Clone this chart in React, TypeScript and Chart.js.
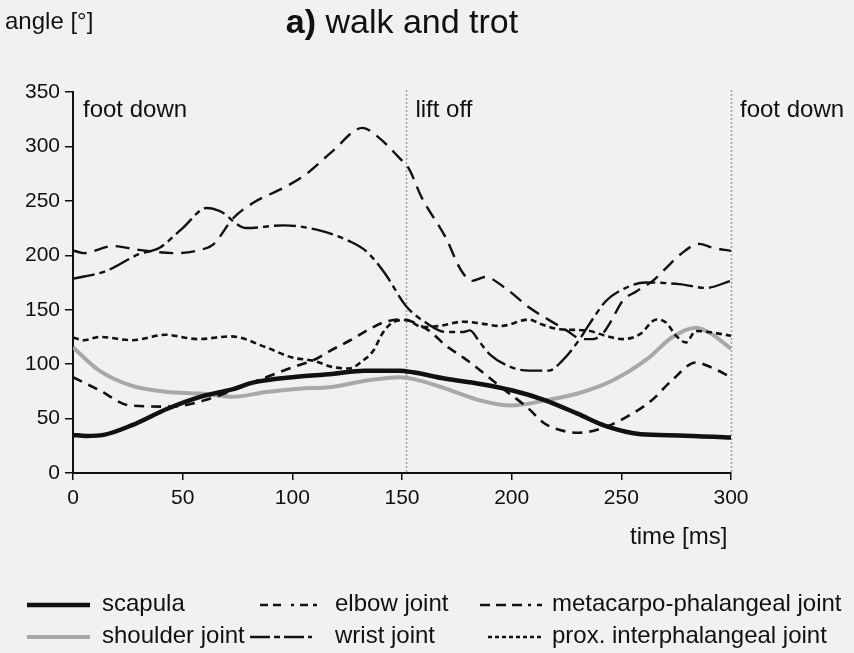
import React, { useEffect, useRef } from "react";
import { Chart, registerables } from "chart.js";

Chart.register(...registerables);

// ---------- data ----------
const xTickValues = [0, 50, 100, 150, 200, 250, 300];
const yTickValues = [0, 50, 100, 150, 200, 250, 300, 350];

const eventTimes = [0, 152, 300];
const eventLabels = ["foot down", "lift off", "foot down"];

const scapulaT = [0, 6, 14, 27, 43, 58, 73, 82, 100, 118, 133, 149, 155, 170, 185, 200, 215, 230, 243, 259, 276, 300];
const scapulaV = [35, 34, 35, 44, 59, 70, 77, 83, 88, 91, 94, 94, 92.5, 86.5, 82, 76, 67, 54.5, 43, 35.5, 34.5, 32.5];

const shoulderT = [0, 12, 27, 43, 58, 73, 88, 103, 118, 134, 149, 155, 170, 185, 200, 215, 230, 246, 262, 273, 284, 291, 300];
const shoulderV = [115.5, 94, 80, 74.5, 73, 70, 74.5, 77.5, 79, 85, 88, 86.5, 77.5, 67, 62, 66.5, 73, 85, 105, 124.5, 133.5, 128, 114];

const elbowT = [0, 12, 26, 45, 62, 73, 88, 100, 110, 117, 126, 135, 141, 149, 153, 162.5, 170, 178, 184, 195, 207, 215, 225, 231, 243, 255, 264, 273, 284, 291, 300];
const elbowV = [88, 76, 62, 61, 68, 76, 88, 97, 104, 112, 121.5, 132, 138, 141, 140, 130.5, 117, 106, 97, 79, 60.5, 45.5, 38, 37, 42.5, 54.5, 67, 85, 101.5, 97, 88];

const metaT = [0, 5, 18, 30, 47, 58, 64, 73, 82, 96, 106, 118, 132, 138, 149, 153, 159, 170, 177, 182, 188, 197, 208, 217.5, 225, 232, 237, 241.5, 245.5, 250.5, 257, 264, 270.5, 277, 285.5, 291.5, 300];
const metaV = [204.5, 202, 208.5, 205, 202, 205, 210, 234, 248, 262, 274, 295, 317, 310.5, 289, 280, 253, 216, 186, 176.5, 180, 170, 152, 140, 131, 123, 123, 128, 140, 158, 167, 176, 188.5, 201, 210.5, 207, 204];

const wristT = [0, 15, 30, 39.5, 50, 61, 67, 79, 96, 111, 126, 133.5, 142, 152, 161, 170, 178, 181, 185, 190, 200, 208, 217, 223, 230.5, 235.5, 243, 252, 261, 276.5, 288.5, 300];
const wristV = [178.5, 185.5, 201, 207, 225, 243.5, 240.5, 225, 227.5, 223.5, 213, 204, 184, 153, 138, 129.5, 129.5, 131, 121.5, 109, 97, 94, 94, 103, 121.5, 137, 158, 170, 175, 173.5, 170, 176.5];

const proxT = [0, 5, 12, 27, 42, 57, 72, 88, 100, 110, 118, 126, 132, 137, 141, 145.5, 151.7, 159.5, 167, 178, 187, 195, 208, 213, 222, 234, 243, 250.5, 258.5, 266, 270.5, 275, 279.5, 284, 291.5, 300];
const proxV = [124.5, 122, 125, 122, 127, 123, 125.5, 115.5, 106, 103, 97.5, 96, 103, 112.5, 128, 138, 140.5, 134, 135, 139, 137, 135, 141, 137, 132, 131, 126, 123, 127.5, 141, 138, 126, 120, 130.5, 129, 126];

const seriesNames = [
  "scapula",
  "shoulder joint",
  "elbow joint",
  "wrist joint",
  "metacarpo-phalangeal joint",
  "prox. interphalangeal joint",
];

const FONT = '"Liberation Sans", Arial, Helvetica, sans-serif';
const INK = "#111111";

function pts(t: number[], v: number[]) {
  return t.map((x, i) => ({ x, y: v[i] }));
}

export default function App() {
  const ref = useRef<HTMLCanvasElement>(null);

  useEffect(() => {
    const canvas = ref.current;
    if (!canvas) return;

    const datasets: any[] = [
      { label: seriesNames[0], data: pts(scapulaT, scapulaV), borderColor: INK, borderWidth: 4.5, borderDash: [], order: 0 },
      { label: seriesNames[1], data: pts(shoulderT, shoulderV), borderColor: "#a8a8a8", borderWidth: 4, borderDash: [], order: 5 },
      { label: seriesNames[2], data: pts(elbowT, elbowV), borderColor: INK, borderWidth: 2.6, borderDash: [10, 7], order: 2 },
      { label: seriesNames[3], data: pts(wristT, wristV), borderColor: INK, borderWidth: 2.4, borderDash: [22, 5, 6, 5], order: 3 },
      { label: seriesNames[4], data: pts(metaT, metaV), borderColor: INK, borderWidth: 2.4, borderDash: [14, 8], order: 4 },
      { label: seriesNames[5], data: pts(proxT, proxV), borderColor: INK, borderWidth: 2.6, borderDash: [6, 4], order: 1 },
    ].map((d) => ({ ...d, fill: false, pointRadius: 0, cubicInterpolationMode: "monotone" }));

    // legend layout: [datasetIndex, sampleX1, sampleX2, textX, y, legendDash]
    const legendLayout: [number, number, number, number, number, number[]][] = [
      [0, 27, 90, 102, 605, []],
      [1, 27, 90, 102, 637, []],
      [2, 260, 317, 335, 605, [8, 5, 8, 10, 3, 6]],
      [3, 250, 312, 335, 637, [20, 4, 6, 4]],
      [4, 480, 542, 552, 605, [10, 6, 10, 6, 10, 6, 3, 6]],
      [5, 488, 542, 552, 637, [4, 3]],
    ];

    const overlay = {
      id: "overlay",
      beforeDraw(chart: any) {
        const c = chart.ctx;
        c.save();
        c.fillStyle = "#f1f1f1";
        c.fillRect(0, 0, chart.width, chart.height);
        c.restore();
      },
      beforeDatasetsDraw(chart: any) {
        const c = chart.ctx;
        const xs = chart.scales.x;
        const area = chart.chartArea;
        c.save();
        c.strokeStyle = "#a0a0a0";
        c.lineWidth = 1.5;
        c.setLineDash([2, 2]);
        eventTimes.forEach((t) => {
          if (t === 0) return;
          const px = Math.round(xs.getPixelForValue(t)) + 0.5;
          c.beginPath();
          c.moveTo(px, area.top - 2);
          c.lineTo(px, area.bottom);
          c.stroke();
        });
        c.restore();
      },
      afterDraw(chart: any) {
        const c = chart.ctx;
        const xs = chart.scales.x;
        const area = chart.chartArea;
        c.save();
        c.fillStyle = INK;
        c.textBaseline = "alphabetic";

        // title with bold "a)"
        const boldPart = "a)";
        const normalPart = " walk and trot";
        c.font = `bold 34px ${FONT}`;
        const wb = c.measureText(boldPart).width;
        c.font = `34px ${FONT}`;
        const wn = c.measureText(normalPart).width;
        const tx = 402 - (wb + wn) / 2;
        c.font = `bold 34px ${FONT}`;
        c.fillText(boldPart, tx, 33);
        c.font = `34px ${FONT}`;
        c.fillText(normalPart, tx + wb, 33);

        // axis titles
        c.font = `24px ${FONT}`;
        c.textAlign = "left";
        c.fillText("angle [°]", 5, 29);
        c.fillText("time [ms]", 630, 544);

        // event labels
        eventTimes.forEach((t, i) => {
          const px = xs.getPixelForValue(t);
          c.fillText(eventLabels[i], px + (t === 0 ? 10 : 9), area.top + 25);
        });

        // legend
        legendLayout.forEach(([di, x1, x2, tx2, y, dash]) => {
          const ds = chart.data.datasets[di];
          c.save();
          c.strokeStyle = ds.borderColor;
          c.lineWidth = ds.borderWidth;
          c.setLineDash(dash);
          c.beginPath();
          c.moveTo(x1, y);
          c.lineTo(x2, y);
          c.stroke();
          c.restore();
          c.font = `24px ${FONT}`;
          c.textBaseline = "middle";
          c.fillText(ds.label, tx2, y - 1);
        });
        c.restore();
      },
    };

    const chart = new Chart(canvas, {
      type: "line",
      data: { datasets },
      options: {
        responsive: false,
        animation: false,
        layout: { padding: { left: 0, top: 92, right: 123, bottom: 140 } },
        plugins: {
          legend: { display: false },
          tooltip: { enabled: false },
          title: { display: false },
        },
        scales: {
          x: {
            type: "linear",
            min: 0,
            max: 300,
            afterBuildTicks: (s: any) => {
              s.ticks = xTickValues.map((v) => ({ value: v }));
            },
            ticks: { color: INK, font: { family: FONT, size: 21 }, padding: 6, maxRotation: 0, autoSkip: false },
            grid: { display: true, drawOnChartArea: false, drawTicks: true, tickLength: 7, color: INK, lineWidth: 1.5 },
            border: { display: true, color: INK, width: 2 },
            afterFit: (s: any) => {
              s.height = 40;
            },
          },
          y: {
            type: "linear",
            min: 0,
            max: 350,
            afterBuildTicks: (s: any) => {
              s.ticks = yTickValues.map((v) => ({ value: v }));
            },
            ticks: { color: INK, font: { family: FONT, size: 21 }, padding: 5, autoSkip: false },
            grid: { display: true, drawOnChartArea: false, drawTicks: true, tickLength: 8, color: INK, lineWidth: 1.5 },
            border: { display: true, color: INK, width: 2 },
            afterFit: (s: any) => {
              s.width = 73;
            },
          },
        },
      } as any,
      plugins: [overlay],
    });

    return () => chart.destroy();
  }, []);

  return (
    <div style={{ position: "fixed", left: 0, top: 0, width: 854, height: 653, background: "#f1f1f1" }}>
      <canvas ref={ref} width={854} height={653} style={{ display: "block", width: 854, height: 653 }} />
    </div>
  );
}
